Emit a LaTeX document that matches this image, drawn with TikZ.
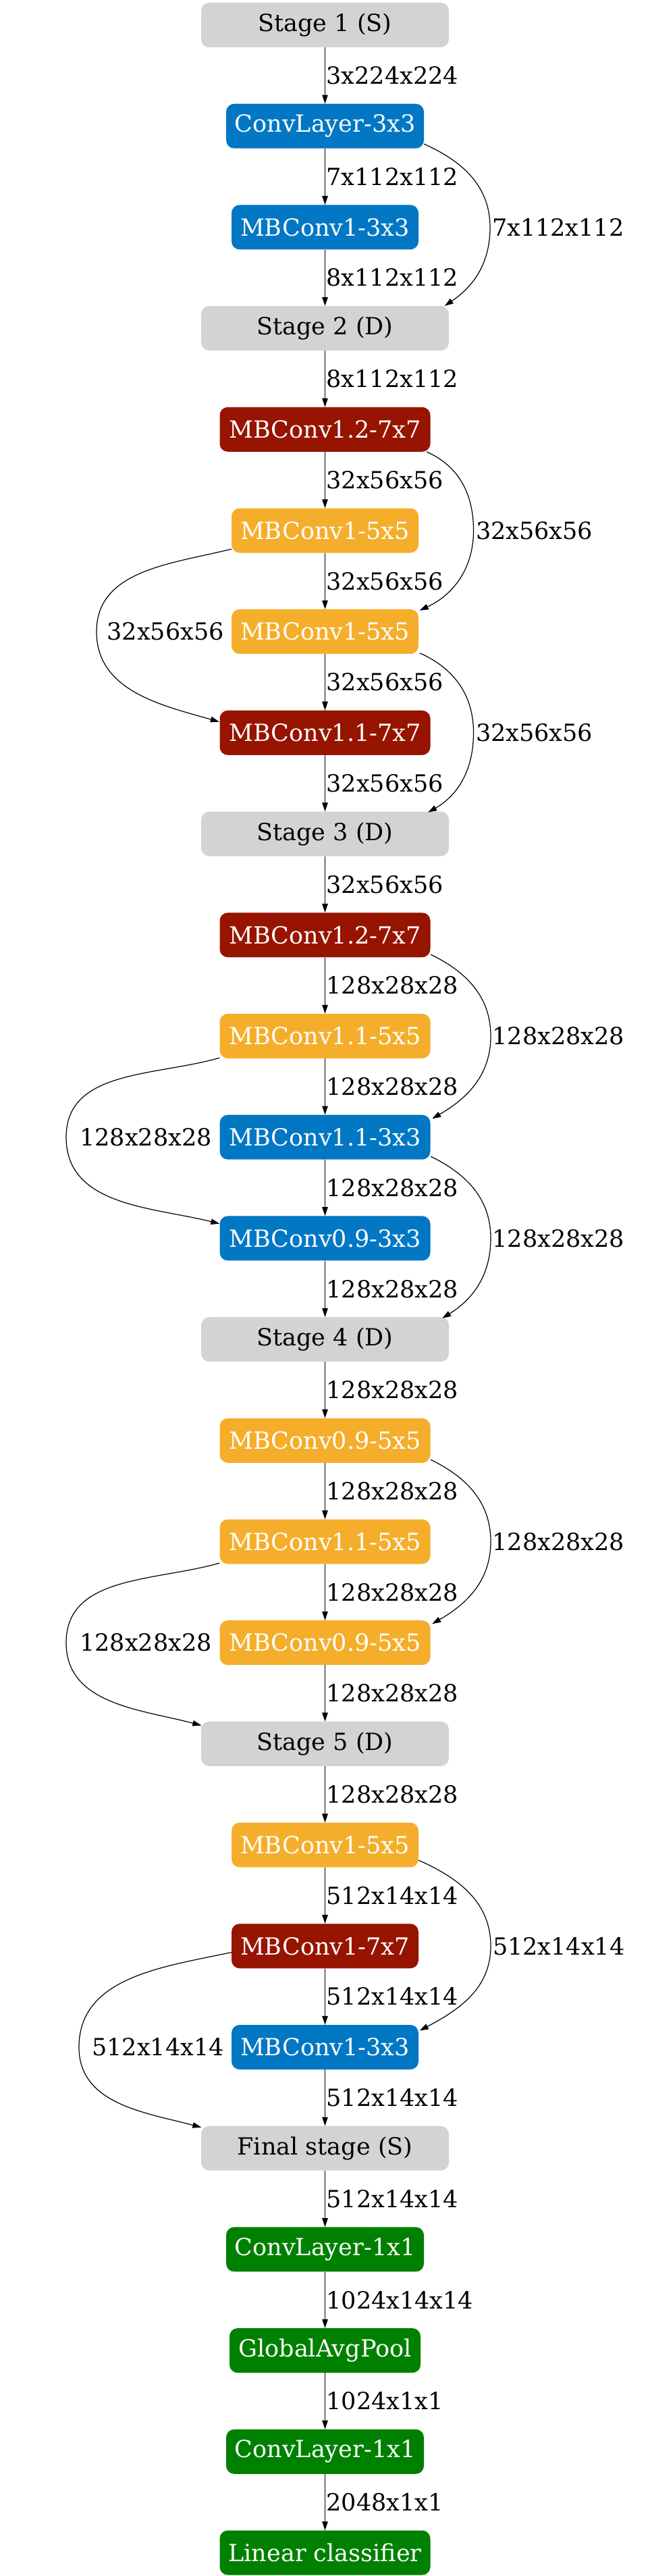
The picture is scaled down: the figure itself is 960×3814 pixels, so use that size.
\documentclass[tikz,border=0pt]{standalone}
\usepackage{fontspec}
\setmainfont{DejaVu Serif}
\usetikzlibrary{arrows.meta,calc}
\definecolor{cgray}{HTML}{D3D3D3}
\definecolor{cblue}{HTML}{0277C4}
\definecolor{cred}{HTML}{961400}
\definecolor{corange}{HTML}{F5AE2B}
\definecolor{cgreen}{HTML}{008000}
\newcommand{\bigf}{\fontsize{35}{42}\selectfont}
\tikzset{
  box/.style={rounded corners=12pt, minimum height=66pt, inner xsep=0pt, inner ysep=0pt, text=white, font=\bigf},
  gbox/.style={box, fill=cgray, text=black, minimum width=367pt},
  bbox/.style={box, fill=cblue},
  rbox/.style={box, fill=cred},
  obox/.style={box, fill=corange},
  grbox/.style={box, fill=cgreen},
  edge/.style={draw=black, line width=1.2pt, -{Triangle[length=13pt,width=8.5pt]}},
  elab/.style={anchor=west, inner sep=0pt, xshift=1.5pt, font=\bigf, text=black},
  slab/.style={inner sep=0pt, font=\bigf, text=black},
}
\begin{document}
\begin{tikzpicture}[x=1pt,y=1pt]
\useasboundingbox (0,0) rectangle (960,-3814);
% nodes
\node[gbox] (n0) at (481.5,-37) {Stage 1 (S)};
\node[bbox, minimum width=293pt] (n1) at (481.5,-186.7) {ConvLayer-3x3};
\node[bbox, minimum width=277pt] (n2) at (481.5,-336.4) {MBConv1-3x3};
\node[gbox] (n3) at (481.5,-486.1) {Stage 2 (D)};
\node[rbox, minimum width=312pt] (n4) at (481.5,-635.8) {MBConv1.2-7x7};
\node[obox, minimum width=277pt] (n5) at (481.5,-785.5) {MBConv1-5x5};
\node[obox, minimum width=277pt] (n6) at (481.5,-935.2) {MBConv1-5x5};
\node[rbox, minimum width=312pt] (n7) at (481.5,-1084.9) {MBConv1.1-7x7};
\node[gbox] (n8) at (481.5,-1234.6) {Stage 3 (D)};
\node[rbox, minimum width=312pt] (n9) at (481.5,-1384.3) {MBConv1.2-7x7};
\node[obox, minimum width=312pt] (n10) at (481.5,-1534) {MBConv1.1-5x5};
\node[bbox, minimum width=312pt] (n11) at (481.5,-1683.7) {MBConv1.1-3x3};
\node[bbox, minimum width=312pt] (n12) at (481.5,-1833.4) {MBConv0.9-3x3};
\node[gbox] (n13) at (481.5,-1983.1) {Stage 4 (D)};
\node[obox, minimum width=312pt] (n14) at (481.5,-2132.8) {MBConv0.9-5x5};
\node[obox, minimum width=312pt] (n15) at (481.5,-2282.5) {MBConv1.1-5x5};
\node[obox, minimum width=312pt] (n16) at (481.5,-2432.2) {MBConv0.9-5x5};
\node[gbox] (n17) at (481.5,-2581.9) {Stage 5 (D)};
\node[obox, minimum width=277pt] (n18) at (481.5,-2731.6) {MBConv1-5x5};
\node[rbox, minimum width=277pt] (n19) at (481.5,-2881.3) {MBConv1-7x7};
\node[bbox, minimum width=277pt] (n20) at (481.5,-3031) {MBConv1-3x3};
\node[gbox] (n21) at (481.5,-3180.7) {Final stage (S)};
\node[grbox, minimum width=293pt] (n22) at (481.5,-3330.4) {ConvLayer-1x1};
\node[grbox, minimum width=283pt] (n23) at (481.5,-3480.1) {GlobalAvgPool};
\node[grbox, minimum width=293pt] (n24) at (481.5,-3629.8) {ConvLayer-1x1};
\node[grbox, minimum width=312pt] (n25) at (481.5,-3779.5) {Linear classifier};
% straight edges
\foreach \a/\b/\t in {0/1/3x224x224, 1/2/7x112x112, 2/3/8x112x112, 3/4/8x112x112,
  4/5/32x56x56, 5/6/32x56x56, 6/7/32x56x56, 7/8/32x56x56, 8/9/32x56x56,
  9/10/128x28x28, 10/11/128x28x28, 11/12/128x28x28, 12/13/128x28x28,
  13/14/128x28x28, 14/15/128x28x28, 15/16/128x28x28, 16/17/128x28x28,
  17/18/128x28x28, 18/19/512x14x14, 19/20/512x14x14, 20/21/512x14x14,
  21/22/512x14x14, 22/23/1024x14x14, 23/24/1024x1x1, 24/25/2048x1x1}
  \draw[edge] (n\a) -- node[elab] (v\a) {\t} (n\b);
% right skip edges
\coordinate (m13) at (726,-336.4);
\draw[edge] ($(n1.south east)+(0,6.7)$) to[out=-24,in=90] (m13) to[out=-90,in=34] ($(n3.north east)+(-6.5,0)$);
\node[slab, anchor=west] (l13) at ($(m13)+(3,0)$) {7x112x112};
\coordinate (m46) at (701.5,-785.5);
\draw[edge] ($(n4.south east)+(-5.5,0)$) to[out=-24,in=90] (m46) to[out=-90,in=25] ($(n6.north east)+(1.5,-1.8)$);
\node[slab, anchor=west] (l46) at ($(m46)+(3.5,0)$) {32x56x56};
\coordinate (m68) at (701.5,-1084.9);
\draw[edge] ($(n6.south east)+(1.5,1.6)$) to[out=-24,in=90] (m68) to[out=-90,in=30] ($(n8.north east)+(-31,-1.4)$);
\node[slab, anchor=west] (l68) at ($(m68)+(3.5,0)$) {32x56x56};
\coordinate (m911) at (727,-1534);
\draw[edge] ($(n9.south east)+(0.5,4.3)$) to[out=-26,in=90] (m911) to[out=-90,in=30] ($(n11.north east)+(2.5,-5.8)$);
\node[slab, anchor=west] (l911) at ($(m911)+(2.5,0)$) {128x28x28};
\coordinate (m1113) at (727,-1833.4);
\draw[edge] ($(n11.south east)+(0.5,4.7)$) to[out=-26,in=90] (m1113) to[out=-90,in=32] ($(n13.north east)+(-10,-1.9)$);
\node[slab, anchor=west] (l1113) at ($(m1113)+(2.5,0)$) {128x28x28};
\coordinate (m1416) at (727,-2282.5);
\draw[edge] ($(n14.south east)+(0.5,4.8)$) to[out=-26,in=90] (m1416) to[out=-90,in=30] ($(n16.north east)+(2.5,-5.3)$);
\node[slab, anchor=west] (l1416) at ($(m1416)+(2.5,0)$) {128x28x28};
\coordinate (m1820) at (727,-2881.3);
\draw[edge] ($(n18.south east)+(0,10.6)$) to[out=-24,in=90] (m1820) to[out=-90,in=28] ($(n20.north east)+(1.5,-8.7)$);
\node[slab, anchor=west] (l1820) at ($(m1820)+(3,0)$) {512x14x14};
% left skip edges
\coordinate (m57) at (143,-935.2);
\draw[edge] ($(n5.south west)+(0,5.8)$) to[out=-166,in=90] (m57) to[out=-90,in=164] ($(n7.north west)+(-0.5,-17)$);
\node[slab, anchor=east] (l57) at (332,-935.2) {32x56x56};
\coordinate (m1012) at (98,-1683.7);
\draw[edge] ($(n10.south west)+(0,1)$) to[out=-164,in=90] (m1012) to[out=-90,in=166] ($(n12.north west)+(0,-11.6)$);
\node[slab, anchor=east] (l1012) at (314,-1683.7) {128x28x28};
\coordinate (m1517) at (98,-2432.2);
\draw[edge] ($(n15.south west)+(0,1.5)$) to[out=-164,in=90] (m1517) to[out=-90,in=165] ($(n17.north west)+(0.5,-6)$);
\node[slab, anchor=east] (l1517) at (314,-2432.2) {128x28x28};
\coordinate (m1921) at (117,-3031);
\draw[edge] ($(n19.west)+(0,-9.3)$) to[out=-168,in=90] (m1921) to[out=-90,in=165] ($(n21.north west)+(0.5,-2.3)$);
\node[slab, anchor=east] (l1921) at (332,-3031) {512x14x14};
\end{tikzpicture}
\end{document}
